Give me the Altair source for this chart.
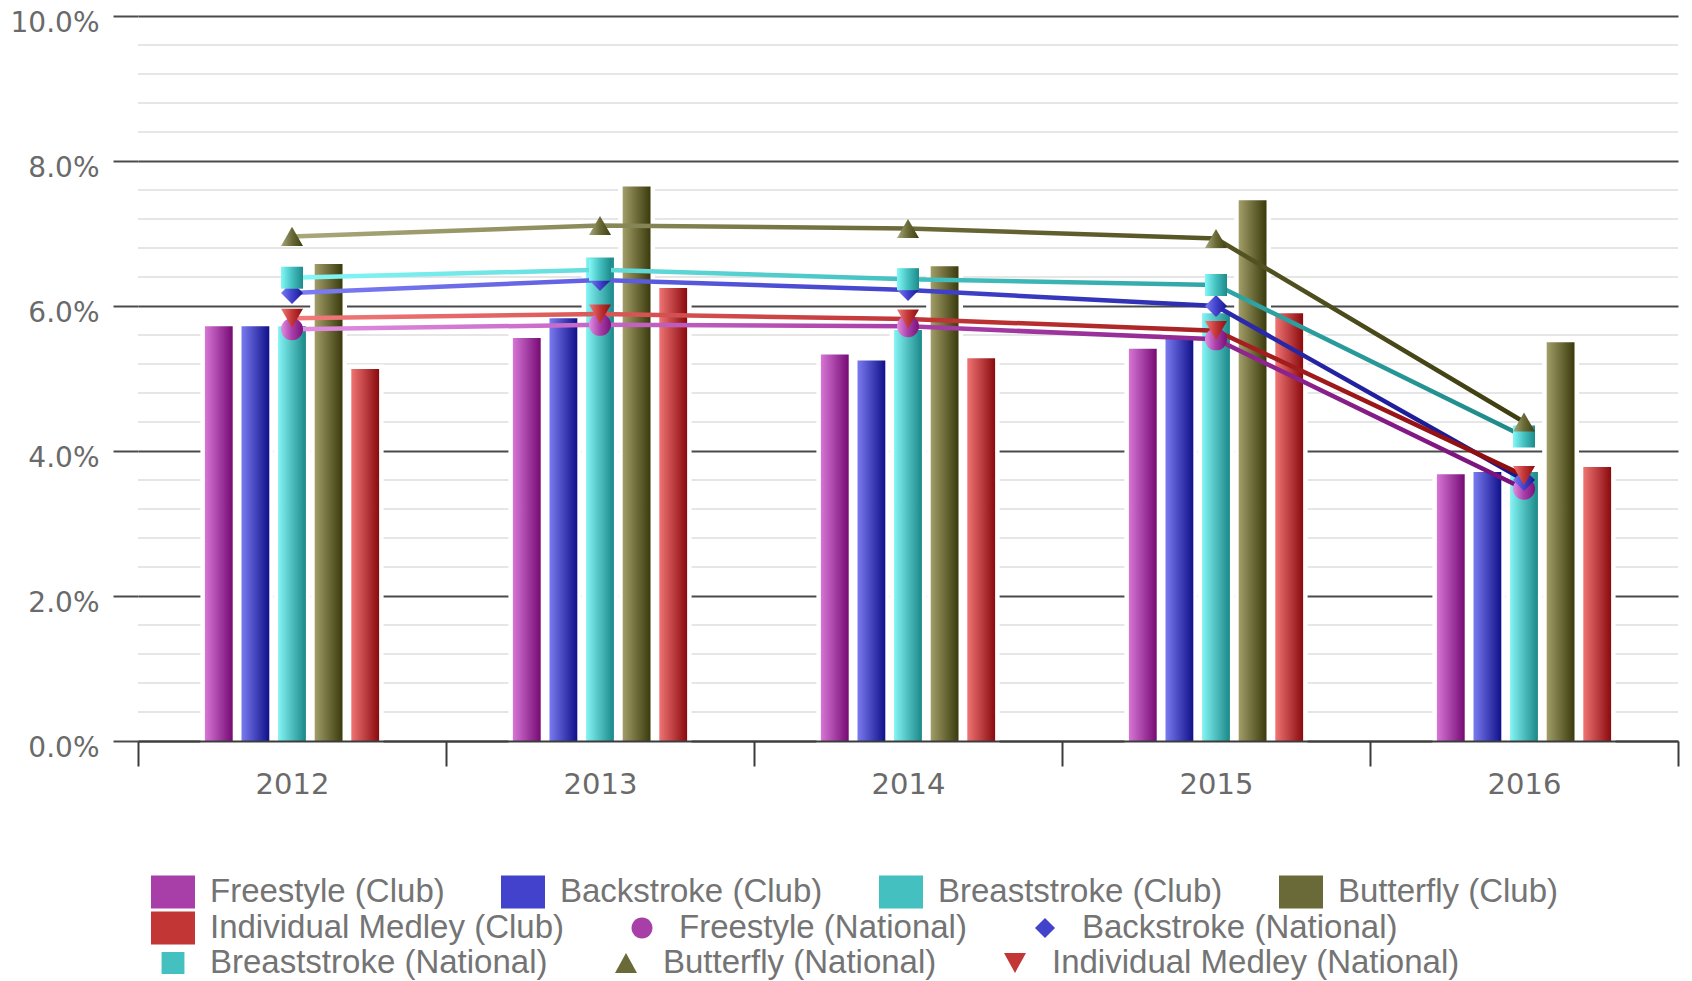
import altair as alt
import pandas as pd

# ---------------- data ----------------
YEARS = ["2012", "2013", "2014", "2015", "2016"]

CLUB_NAMES = ["Freestyle (Club)", "Backstroke (Club)", "Breaststroke (Club)",
              "Butterfly (Club)", "Individual Medley (Club)"]
NAT_NAMES = ["Freestyle (National)", "Backstroke (National)", "Breaststroke (National)",
             "Butterfly (National)", "Individual Medley (National)"]

FREESTYLE_CLUB = [5.72, 5.56, 5.33, 5.41, 3.68]
BACKSTROKE_CLUB = [5.72, 5.83, 5.25, 5.56, 3.71]
BREASTSTROKE_CLUB = [5.72, 6.67, 5.67, 5.90, 3.71]
BUTTERFLY_CLUB = [6.58, 7.65, 6.55, 7.46, 5.50]
MEDLEY_CLUB = [5.13, 6.25, 5.28, 5.90, 3.78]

FREESTYLE_NAT = [5.68, 5.74, 5.72, 5.54, 3.48]
BACKSTROKE_NAT = [6.18, 6.36, 6.22, 6.00, 3.60]
BREASTSTROKE_NAT = [6.39, 6.50, 6.37, 6.29, 4.20]
BUTTERFLY_NAT = [6.96, 7.11, 7.07, 6.93, 4.40]
MEDLEY_NAT = [5.83, 5.89, 5.82, 5.66, 3.66]

CLUB_VALUES = [FREESTYLE_CLUB, BACKSTROKE_CLUB, BREASTSTROKE_CLUB, BUTTERFLY_CLUB, MEDLEY_CLUB]
NAT_VALUES = [FREESTYLE_NAT, BACKSTROKE_NAT, BREASTSTROKE_NAT, BUTTERFLY_NAT, MEDLEY_NAT]

MAJOR_TICKS = [0, 2, 4, 6, 8, 10]
MINOR_TICKS = [0.4, 0.8, 1.2, 1.6, 2.4, 2.8, 3.2, 3.6, 4.4, 4.8, 5.2, 5.6,
               6.4, 6.8, 7.2, 7.6, 8.4, 8.8, 9.2, 9.6]

# ---------------- styles ----------------
BAR_LIGHT = ["#d676d6", "#7a7af0", "#84f4f4", "#a29e68", "#f07474"]
BAR_DARK = ["#760a74", "#10108a", "#1a8888", "#3a3a0c", "#8a0a0e"]
LINE_LIGHT = ["#e28ee2", "#7c7cf4", "#84f8f8", "#a8a87a", "#f27a7a"]
LINE_DARK = ["#7a107a", "#16168e", "#1e8a8a", "#3e3e10", "#8e0c0e"]
MID = ["#a83ea8", "#4242cc", "#44c0c0", "#6a6a38", "#c23636"]
NAT_SHAPES = ["circle", "diamond", "square", "triangle-up", "triangle-down"]

# legend symbol paths (drawn inside a 44 px wide symbol cell)
RECT = "M-1,-0.75H1V0.75H-1Z"
CIRCLE = "M-0.477,0A0.477,0.477 0 1,0 0.477,0A0.477,0.477 0 1,0 -0.477,0Z"
DIAMOND = "M0,-0.4545L0.4545,0L0,0.4545L-0.4545,0Z"
SQUARE = "M-0.52,-0.5H0.52V0.5H-0.52Z"
TRI_UP = "M0,-0.45L0.5,0.45H-0.5Z"
TRI_DOWN = "M-0.5,-0.45H0.5L0,0.45Z"
LEG_SIZE = 1936

W, H = 1540, 725
AXIS_FONT = "DejaVu Sans"
LEG_FONT = "Liberation Sans"


def grad(c0, c1, cm=None):
    stops = [alt.GradientStop(color=c0, offset=0)]
    if cm:
        stops.append(alt.GradientStop(color=cm, offset=0.5))
    stops.append(alt.GradientStop(color=c1, offset=1))
    return alt.LinearGradient(gradient="linear", stops=stops, x1=0, x2=1, y1=0, y2=0)


x_enc = alt.X("year:N", sort=YEARS, title=None,
              scale=alt.Scale(domain=YEARS, paddingInner=0, paddingOuter=0),
              axis=alt.Axis(labelAngle=0, tickBand="extent", tickSize=25, tickColor="#3c3c3c",
                            tickWidth=2, domainColor="#3c3c3c", domainWidth=2, grid=False,
                            labelFont=AXIS_FONT, labelFontSize=29, labelColor="#6a6a6a",
                            labelPadding=4, zindex=1))
y_enc = alt.Y("value:Q", title=None,
              scale=alt.Scale(domain=[0, 10], nice=False, zero=True),
              axis=alt.Axis(values=MAJOR_TICKS, labelExpr="format(datum.value, '.1f') + '%'",
                            tickSize=25, tickColor="#4a4a4a", tickWidth=2, grid=True,
                            gridColor="#4a4a4a", gridWidth=2, domain=False,
                            labelFont=AXIS_FONT, labelFontSize=28, labelColor="#6a6a6a",
                            labelPadding=14, labelOffset=7, zindex=0))
xoff_enc = alt.XOffset("series:N", sort=CLUB_NAMES,
                       scale=alt.Scale(domain=CLUB_NAMES, range=[62.5, 245.5],
                                       paddingInner=0.24, paddingOuter=0.12))

layers = []

# minor grid lines
minor_df = pd.DataFrame({"value": MINOR_TICKS})
layers.append(alt.Chart(minor_df).mark_rule(color="#e6e6e6", strokeWidth=2).encode(
    y=y_enc, x=alt.value(0), x2=alt.value(W)))

# club bars
bar_rows = []
for name, vals in zip(CLUB_NAMES, CLUB_VALUES):
    for yr, v in zip(YEARS, vals):
        bar_rows.append({"year": yr, "series": name, "value": v})
bars_df = pd.DataFrame(bar_rows)

# white halo behind bars
layers.append(alt.Chart(bars_df).mark_bar(color="white", stroke="white", strokeWidth=9).encode(
    x=x_enc, xOffset=xoff_enc, y=y_enc))

for i, name in enumerate(CLUB_NAMES):
    df = bars_df[bars_df.series == name]
    layers.append(alt.Chart(df).mark_bar(color=grad(BAR_LIGHT[i], BAR_DARK[i])).encode(
        x=x_enc, xOffset=xoff_enc, y=y_enc))

# national lines and markers
nat_frames = []
for name, vals in zip(NAT_NAMES, NAT_VALUES):
    nat_frames.append(pd.DataFrame({"year": YEARS, "series": name, "value": vals}))

for i, df in enumerate(nat_frames):
    layers.append(alt.Chart(df).mark_line(
        color=grad(LINE_LIGHT[i], LINE_DARK[i], MID[i]), strokeWidth=4.5).encode(
        x=x_enc, y=y_enc))

for i, df in enumerate(nat_frames):
    layers.append(alt.Chart(df).mark_point(
        filled=True, shape=NAT_SHAPES[i], size=484, opacity=1, strokeWidth=0,
        fill=grad(LINE_LIGHT[i], LINE_DARK[i], MID[i])).encode(
        x=x_enc, y=y_enc))

# legend rows (invisible marks driving three legends)
LEGEND_ROWS = [
    (CLUB_NAMES[0:4], [RECT] * 4, MID[0:4], 854),
    ([CLUB_NAMES[4], NAT_NAMES[0], NAT_NAMES[1]], [RECT, CIRCLE, DIAMOND],
     [MID[4], MID[0], MID[1]], 890),
    (NAT_NAMES[2:5], [SQUARE, TRI_UP, TRI_DOWN], MID[2:5], 925),
]
for names, shapes, colors, ly in LEGEND_ROWS:
    ldf = pd.DataFrame({"item": names})
    leg = alt.Legend(title=None, orient="none", legendX=13, legendY=ly, direction="horizontal",
                     columnPadding=56, labelOffset=15, labelFont=LEG_FONT, labelFontSize=33,
                     labelColor="#747474", labelLimit=0, symbolStrokeWidth=0, padding=0,
                     symbolOpacity=1)
    layers.append(alt.Chart(ldf).mark_point(filled=True, opacity=0).encode(
        x=alt.value(0), y=alt.value(0),
        color=alt.Color("item:N", sort=names, scale=alt.Scale(domain=names, range=colors), legend=leg),
        shape=alt.Shape("item:N", sort=names, scale=alt.Scale(domain=names, range=shapes), legend=leg),
        size=alt.Size("item:N", sort=names,
                      scale=alt.Scale(type="ordinal", domain=names, range=[LEG_SIZE] * len(names)),
                      legend=leg),
    ))

chart = alt.layer(*layers).resolve_scale(
    color="independent", shape="independent", size="independent"
).properties(
    width=W, height=H,
    autosize=alt.AutoSizeParams(type="none"),
    padding={"left": 138, "top": 16, "right": 14, "bottom": 240},
    background="white",
).configure_view(stroke=None)

chart.save("out.html", embed_options={"renderer": "svg", "actions": False})
